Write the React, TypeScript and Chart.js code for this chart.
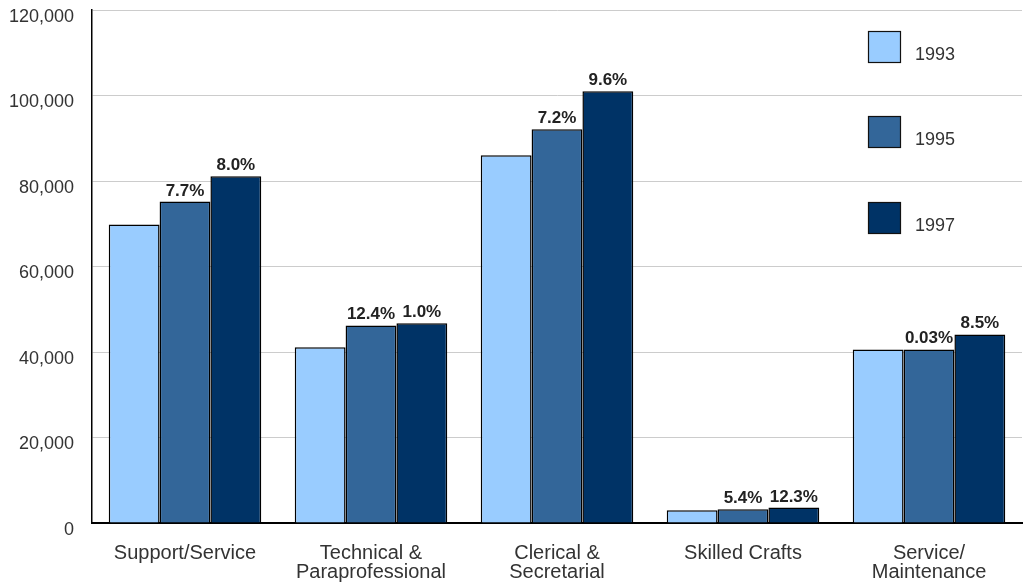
import React, { useEffect, useRef } from "react";
import { Chart, registerables } from "chart.js";

Chart.register(...registerables);

const categories: (string | string[])[] = [
  "Support/Service",
  ["Technical &", "Paraprofessional"],
  ["Clerical &", "Secretarial"],
  "Skilled Crafts",
  ["Service/", "Maintenance"],
];
const seriesNames = ["1993", "1995", "1997"];
const values1993 = [69800, 41100, 86000, 3000, 40600];
const values1995 = [75200, 46200, 92100, 3200, 40600];
const values1997 = [81100, 46700, 101000, 3600, 44100];
const pct1995 = ["7.7%", "12.4%", "7.2%", "5.4%", "0.03%"];
const pct1997 = ["8.0%", "1.0%", "9.6%", "12.3%", "8.5%"];
const colors = ["#99CCFF", "#336699", "#003366"];
const yTicks = [0, 20000, 40000, 60000, 80000, 100000, 120000];

const FONT = "'Liberation Sans', Arial, Helvetica, sans-serif";

const labelPlugin = {
  id: "pctLabels",
  afterDatasetsDraw(chart: any) {
    const ctx = chart.ctx;
    ctx.save();
    ctx.font = `bold 17px ${FONT}`;
    ctx.fillStyle = "#222";
    ctx.textAlign = "center";
    ctx.textBaseline = "alphabetic";
    const sets: [number, string[]][] = [
      [1, pct1995],
      [2, pct1997],
    ];
    sets.forEach(([di, labels]) => {
      const meta = chart.getDatasetMeta(di);
      meta.data.forEach((bar: any, i: number) => {
        ctx.fillText(labels[i], bar.x, bar.y - 6);
      });
    });
    ctx.restore();
  },
};

const legendPlugin = {
  id: "boxLegend",
  afterDraw(chart: any) {
    const ctx = chart.ctx;
    const yScale = chart.scales.y;
    ctx.save();
    ctx.font = `18px ${FONT}`;
    ctx.textBaseline = "alphabetic";
    ctx.textAlign = "left";
    chart.data.datasets.forEach((ds: any, i: number) => {
      const top = Math.round(yScale.getPixelForValue(120000 - i * 20000)) + 21;
      const left = 868;
      ctx.fillStyle = ds.backgroundColor;
      ctx.fillRect(left, top, 32, 31);
      ctx.strokeStyle = "#111";
      ctx.lineWidth = 1.2;
      ctx.strokeRect(left + 0.5, top + 0.5, 32, 31);
      ctx.fillStyle = "#333";
      ctx.fillText(ds.label, left + 47, top + 29);
    });
    ctx.restore();
  },
};

export default function App() {
  const ref = useRef<HTMLCanvasElement>(null);
  useEffect(() => {
    document.body.style.margin = "0";
    const chart = new Chart(ref.current!, {
      type: "bar",
      data: {
        labels: categories,
        datasets: [values1993, values1995, values1997].map((v, i) => ({
          label: seriesNames[i],
          data: v,
          backgroundColor: colors[i],
          borderColor: "#000",
          borderWidth: 1.5,
          categoryPercentage: 0.82,
          barPercentage: 1,
        })),
      },
      options: {
        animation: false,
        responsive: false,
        maintainAspectRatio: false,
        layout: { padding: { left: 0, right: 8, top: 10, bottom: 0 } },
        plugins: {
          legend: { display: false },
          tooltip: { enabled: false },
        },
        scales: {
          x: {
            grid: { display: false, drawTicks: false },
            border: { color: "#000", width: 2 },
            ticks: {
              color: "#333",
              font: { family: FONT, size: 20, lineHeight: 0.95 },
              padding: 21,
              maxRotation: 0,
            },
            afterFit: (s: any) => {
              s.height = 63;
              s.paddingLeft = 0;
              s.paddingRight = 0;
            },
          },
          y: {
            min: 0,
            max: 120000,
            afterBuildTicks: (s: any) => {
              s.ticks = yTicks.map((v) => ({ value: v }));
            },
            grid: { color: "#cccccc", drawTicks: false, lineWidth: 1 },
            border: { color: "#000", width: 1.5 },
            ticks: {
              color: "#333",
              font: { family: FONT, size: 18 },
              padding: 18,
              labelOffset: 7,
              callback: (v: any) => Number(v).toLocaleString("en-US"),
            },
            afterFit: (s: any) => {
              s.width = 92;
              s.paddingTop = 0;
              s.paddingBottom = 0;
            },
          },
        },
      },
      plugins: [labelPlugin, legendPlugin],
    });
    return () => chart.destroy();
  }, []);
  return (
    <div style={{ position: "absolute", left: 0, top: 0, width: 1030, height: 586 }}>
      <canvas ref={ref} width={1030} height={586} />
    </div>
  );
}
